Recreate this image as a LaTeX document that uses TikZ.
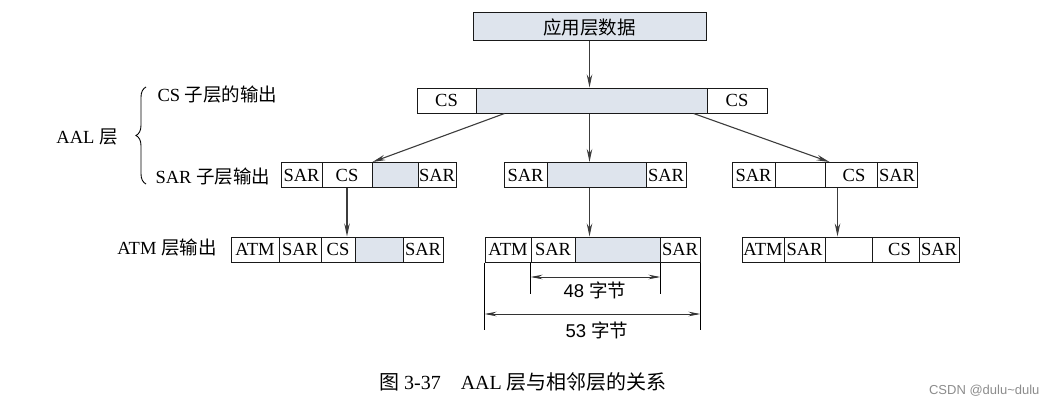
\documentclass[tikz,border=0pt]{standalone}
\usepackage{fontspec}
\setmainfont{Liberation Serif}
\setsansfont{Liberation Sans}
\newfontfamily\cjk{Noto Sans CJK SC}
\usetikzlibrary{calc}
\usetikzlibrary{arrows.meta}
\usetikzlibrary{decorations.pathreplacing}
\definecolor{datagray}{RGB}{222,228,237}
\definecolor{linegray}{RGB}{60,60,60}

\begin{document}
\begin{tikzpicture}[x=1pt,y=-1pt,font=\fontsize{18.5}{18.5}\selectfont]
\tikzset{cell/.style={draw=black!90,line width=1pt,inner sep=0pt,minimum height=25pt},
gcell/.style={cell,fill=datagray},
arr/.style={draw=linegray,line width=1.1pt,-{Stealth[length=13pt,width=5.5pt]}},
dim/.style={draw=black!80,line width=0.9pt,{Stealth[length=12pt,width=4.5pt]}-{Stealth[length=12pt,width=4.5pt]}}}
\useasboundingbox (0,0) rectangle (1056,412);

\node (app) at (589.5,27) [gcell,minimum width=233pt,minimum height=28pt] {\cjk 应用层数据};

\node (p1) at (446.5,100.5) [cell,minimum width=59pt] {CS};
\node (p2) at (591.5,100.5) [gcell,minimum width=231pt] {};
\node (p3) at (737,100.5) [cell,minimum width=60pt] {CS};

\node (l1) at (301.5,175) [cell,minimum width=41pt] {SAR};
\node (l2) at (347,175) [cell,minimum width=50pt] {CS};
\node (l3) at (395,175) [gcell,minimum width=46pt] {};
\node (l4) at (437,175) [cell,minimum width=38pt] {SAR};
\node (m1) at (525.5,175) [cell,minimum width=43pt] {SAR};
\node (m2) at (596.5,175) [gcell,minimum width=99pt] {};
\node (m3) at (666,175) [cell,minimum width=40pt] {SAR};
\node (r1) at (753.5,175) [cell,minimum width=43pt] {SAR};
\node (r2) at (800,175) [cell,minimum width=50pt] {};
\node (r3) at (851,175) [cell,minimum width=52pt] {\hspace*{6pt}CS};
\node (r4) at (897,175) [cell,minimum width=40pt] {SAR};

\node (la) at (255,249.5) [cell,minimum width=48pt] {ATM};
\node (lb) at (300,249.5) [cell,minimum width=42pt] {SAR};
\node (lc) at (338,249.5) [cell,minimum width=34pt] {CS};
\node (ld) at (379,249.5) [gcell,minimum width=48pt] {};
\node (le) at (423,249.5) [cell,minimum width=40pt] {SAR};
\node (ma) at (508,249.5) [cell,minimum width=46pt] {ATM};
\node (mb) at (553,249.5) [cell,minimum width=44pt] {SAR};
\node (mc) at (617.5,249.5) [gcell,minimum width=85pt] {};
\node (md) at (680,249.5) [cell,minimum width=40pt] {SAR};
\node (ra) at (763,249.5) [cell,minimum width=42pt] {ATM};
\node (rb) at (804.5,249.5) [cell,minimum width=41pt] {SAR};
\node (rc) at (848.5,249.5) [cell,minimum width=47pt] {};
\node (rd) at (895.5,249.5) [cell,minimum width=47pt] {\hspace*{8pt}CS};
\node (re) at (939,249.5) [cell,minimum width=40pt] {SAR};

\node (cslab) at (154,95) [anchor=west] {CS {\cjk 子层的输出}};
\node (sarlab) at (152,177) [anchor=west] {SAR {\cjk 子层输出}};
\node (aal) at (87,137) {AAL {\cjk 层}};
\node (atmlab) at (167,248) {ATM {\cjk 层输出}};
\draw[decorate,decoration={brace,amplitude=10pt},line width=0.9pt] (146,184) -- (146,87);

\coordinate (rdown) at ($(r3.south west)+(13,0)$);
\draw[arr] (app.south) -- (app.south |- p2.north);
\draw[arr] ($(p2.south west)!0.125!(p2.south east)$) -- (l2.north east);
\draw[arr] (p2.south -| app.south) -- (m2.north -| app.south);
\draw[arr] ($(p2.south west)!0.94!(p2.south east)$) -- ($(r3.north west)+(5,0)$);
\draw[arr] (l2.south) -- (l2.south |- lc.north);
\draw[arr] (m2.south -| app.south) -- (mc.north -| app.south);
\draw[arr] (rdown) -- (rdown |- rc.north);

\draw[line width=0.9pt] (mb.south west) -- ++(0,31);
\draw[line width=0.9pt] (mc.south east) -- ++(0,31);
\draw[line width=0.9pt] (ma.south west) -- ++(0,67);
\draw[line width=0.9pt] (md.south east) -- ++(0,67);
\draw[dim] (mb.south west |- 0,277) -- (mc.south east |- 0,277);
\draw[dim] (ma.south west |- 0,314) -- (md.south east |- 0,314);
\node (b48) at (595,290) {\sffamily 48 {\cjk 字节}};
\node (b53) at (597,330) {\sffamily 53 {\cjk 字节}};

\node (cap) at (523,382) [font=\fontsize{20}{20}\selectfont] {{\cjk 图} 3-37\quad AAL {\cjk 层与相邻层的关系}};
\node (mark) at (1043,391) [anchor=east,font=\sffamily\fontsize{13}{13}\selectfont,text=black!45] {CSDN @dulu\textasciitilde dulu};
\end{tikzpicture}
\end{document}
